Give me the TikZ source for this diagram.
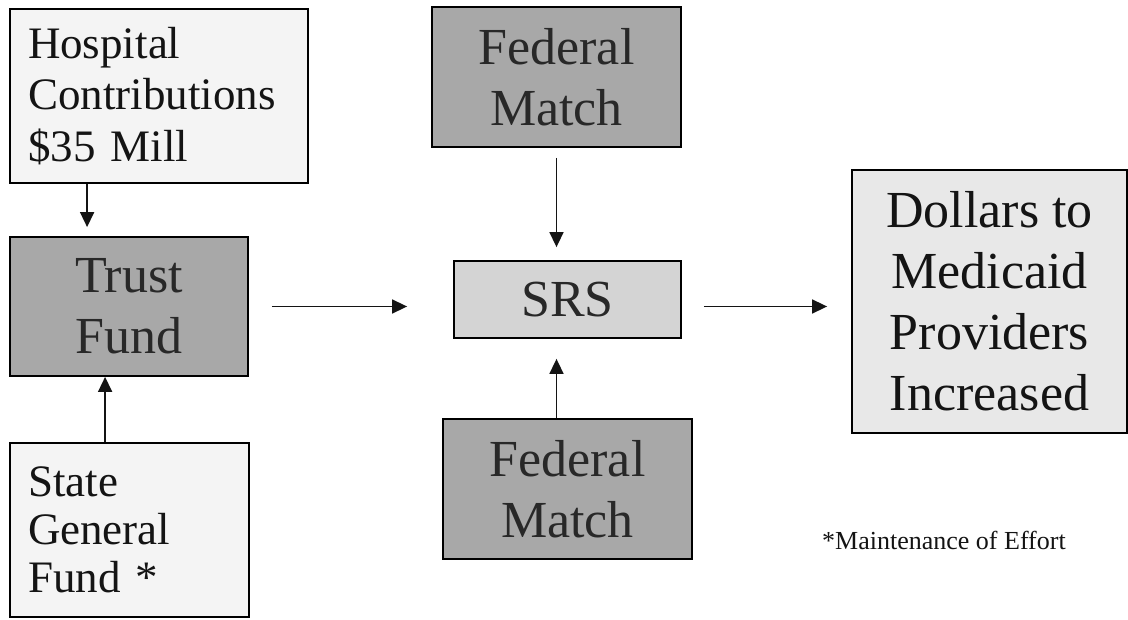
\documentclass[tikz,border=0pt]{standalone}
\usepackage{fontspec}
\setmainfont{Liberation Serif}
\usetikzlibrary{arrows.meta,calc}
\definecolor{darkfill}{RGB}{168,168,168}
\definecolor{srsfill}{RGB}{212,212,212}
\definecolor{dolfill}{RGB}{232,232,232}
\definecolor{lightfill}{RGB}{244,244,244}
\definecolor{inkdark}{RGB}{40,40,40}
\definecolor{ink}{RGB}{20,20,20}
\begin{document}
\begin{tikzpicture}[x=1pt,y=-1pt,
  box/.style={draw=black,line width=1.8pt,inner sep=0pt,rectangle,text=ink},
  darkbox/.style={box,fill=darkfill,text=inkdark,align=center,font=\fontsize{52}{61}\selectfont},
  srsbox/.style={box,fill=srsfill,text=inkdark,align=center,font=\fontsize{52}{61}\selectfont},
  dolbox/.style={box,fill=dolfill,align=center,font=\fontsize{52}{61}\selectfont},
  lightbox/.style={box,fill=lightfill,align=left},
  arr/.style={line width=1.6pt,draw=ink,-{Triangle[length=15pt,width=14pt]}},
  note/.style={inner sep=0pt,anchor=base west,text=ink,font=\fontsize{26}{30}\selectfont}
]
\fill[white] (0,0) rectangle (1128,620);
\useasboundingbox (0,0) rectangle (1128,620);

\node[lightbox,minimum width=298pt,minimum height=174pt,text width=262pt,
      font=\fontsize{45}{51.5}\selectfont] (hosp) at (159,96)
  {Hospital\\Contributions\\\$35 Mill};
\node[darkbox,minimum width=238pt,minimum height=139pt] (trust) at (129,306.5)
  {Trust\\Fund};
\node[lightbox,minimum width=239pt,minimum height=174pt,text width=203pt,
      font=\fontsize{45}{48}\selectfont] (state) at (129.5,530)
  {State\\General\\Fund *};

\node[darkbox,minimum width=249pt,minimum height=140pt] (fedtop) at (556.5,77)
  {Federal\\Match};
\node[srsbox,minimum width=227pt,minimum height=77pt] (srs) at (567.5,299.5)
  {SRS};
\node[darkbox,minimum width=249pt,minimum height=140pt] (fedbot) at (567.5,489)
  {Federal\\Match};

\node[dolbox,minimum width=275pt,minimum height=263pt] (dollars) at (989.5,301.5)
  {Dollars to\\Medicaid\\Providers\\Increased};

\node[note] (note) at (822,549) {*Maintenance of Effort};

\draw[arr] ($(hosp.south west)+(78,0)$) -- ($(trust.north west)+(78,-9)$);
\draw[arr] ($(state.north west)+(96,0)$) -- ($(trust.south west)+(96,0)$);
\draw[arr] ($(fedtop.south)+(0,10)$) -- ($(fedtop.south |- srs.north)+(0,-13)$);
\draw[arr] (fedtop.south |- fedbot.north) -- ($(fedtop.south |- srs.south)+(0,20)$);
\draw[arr] ($(trust.east)+(23,0)$) -- ($(srs.west |- trust.east)+(-46,0)$);
\draw[arr] ($(srs.east |- trust.east)+(22,0)$) -- ($(dollars.west |- trust.east)+(-24,0)$);
\end{tikzpicture}
\end{document}
